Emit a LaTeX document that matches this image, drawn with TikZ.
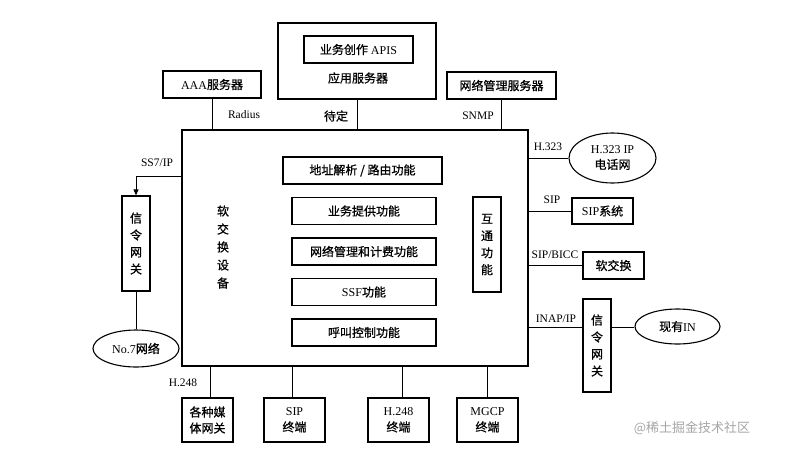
\documentclass[tikz,border=0pt]{standalone}
\usepackage{fontspec}
\setmainfont{Liberation Serif}
\newfontfamily\cjk[FakeBold=0.8]{Noto Sans CJK SC}
\newfontfamily\cjkthin{Noto Sans CJK SC}
\newcommand{\zh}[1]{{\cjk #1}}
\usetikzlibrary{arrows.meta,shapes.geometric}
\tikzset{
  box/.style={draw, line width=1.3pt, inner sep=0pt, align=center,
    font=\fontsize{12}{15}\selectfont},
  vbox/.style={box, font=\fontsize{12}{17}\selectfont\cjk},
  oval/.style={draw, ellipse, line width=1.1pt, inner sep=0pt, align=center,
    font=\fontsize{12}{15}\selectfont},
  conn/.style={draw, line width=0.8pt},
  lbl/.style={inner sep=0pt, font=\fontsize{11.5}{13}\selectfont},
  vtxt/.style={inner sep=0pt, align=center, font=\fontsize{12}{18}\selectfont\cjk}
}
\begin{document}
\begin{tikzpicture}[x=1pt,y=-1pt]
\useasboundingbox[fill=white] (0,0) rectangle (793,448);

% main soft switch box
\node[draw, line width=1.3pt, minimum width=346pt, minimum height=236pt, inner sep=0pt] (main) at (355,248) {};
\node[vtxt] (ssd) at (223,247) {软\\交\\换\\设\\备};

% top
\node[draw, line width=1.3pt, minimum width=158pt, minimum height=76pt, inner sep=0pt] (app) at (357,61) {};
\node[box, minimum width=109pt, minimum height=27pt] (api) at (358.5,49.5) {\zh{业务创作} APIS};
\node[lbl, font=\fontsize{12}{14}\selectfont\cjk] (appt) at (358,78) {应用服务器};
\node[box, minimum width=98pt, minimum height=27pt] (aaa) at (212,84.5) {AAA\zh{服务器}};
\node[box, minimum width=109pt, minimum height=27pt, font=\fontsize{12}{15}\selectfont\cjk] (nms) at (501.5,85.5) {网络管理服务器};
\draw[conn] (aaa.south) -- (aaa.south |- main.north);
\draw[conn] (app.south) -- (app.south |- main.north);
\draw[conn] (nms.south) -- (nms.south |- main.north);
\node[lbl] (radius) at (244,115) {Radius};
\node[lbl, font=\fontsize{12}{14}\selectfont\cjk] (dd) at (336,116) {待定};
\node[lbl] (snmp) at (478,116) {SNMP};

% inner function boxes
\node[box, minimum width=159pt, minimum height=27pt, font=\fontsize{12}{15}\selectfont\cjk] (f1) at (362.5,170.5) {地址解析 / 路由功能};
\node[box, minimum width=144pt, minimum height=27pt, font=\fontsize{12}{15}\selectfont\cjk] (f2) at (364,211) {业务提供功能};
\node[box, minimum width=144pt, minimum height=27pt, font=\fontsize{12}{15}\selectfont\cjk] (f3) at (364,251.5) {网络管理和计费功能};
\node[box, minimum width=144pt, minimum height=27pt] (f4) at (364,292) {SSF\zh{功能}};
\node[box, minimum width=144pt, minimum height=27pt, font=\fontsize{12}{15}\selectfont\cjk] (f5) at (364,332.5) {呼叫控制功能};
\node[vbox, minimum width=28pt, minimum height=95pt] (ht) at (487,244.5) {互\\通\\功\\能};

% left
\node[vbox, minimum width=28pt, minimum height=95pt] (sg1) at (136,243.5) {信\\令\\网\\关};
\draw[conn, -{Triangle[length=6pt,width=5pt]}] ([yshift=-47pt]main.north west) -| (sg1.north);
\node[lbl] (ss7) at (157,163) {SS7/IP};
\node[oval, minimum width=86pt, minimum height=37pt] (no7) at (136,348.5) {No.7\zh{网络}};
\draw[conn] (sg1.south) -- (no7.north);

% right
\node[oval, minimum width=87pt, minimum height=50pt] (h323) at (612.5,158) {H.323 IP\\\zh{电话网}};
\draw[conn] (h323.west) -- (h323.west -| main.east);
\node[lbl] (lh323) at (548,147) {H.323};
\node[box, minimum width=61pt, minimum height=26pt] (sip) at (602.5,211) {SIP\zh{系统}};
\draw[conn] (sip.west) -- (sip.west -| main.east);
\node[lbl] (lsip) at (552,200) {SIP};
\node[box, minimum width=61pt, minimum height=27pt, font=\fontsize{12}{15}\selectfont\cjk] (ssw) at (613.5,265.5) {软交换};
\draw[conn] (ssw.west) -- (ssw.west -| main.east);
\node[lbl] (lbicc) at (555,255) {SIP/BICC};
\node[vbox, minimum width=28pt, minimum height=93pt] (sg2) at (597,345.5) {信\\令\\网\\关};
\coordinate (sg2w) at ([yshift=18.5pt]sg2.west);
\coordinate (sg2e) at ([yshift=18.5pt]sg2.east);
\draw[conn] (sg2w) -- (sg2w -| main.east);
\node[lbl] (linap) at (556,319) {INAP/IP};
\node[oval, minimum width=85pt, minimum height=35pt] (in) at (677.5,326.5) {\zh{现有}IN};
\draw[conn] (sg2e) -- (sg2e -| in.west);

% bottom
\node[box, minimum width=51pt, minimum height=44pt, font=\fontsize{12}{16}\selectfont\cjk] (b1) at (207.5,420) {各种媒\\体网关};
\node[box, minimum width=61pt, minimum height=44pt, font=\fontsize{12}{16}\selectfont] (b2) at (294.5,420) {SIP\\\zh{终端}};
\node[box, minimum width=61pt, minimum height=44pt, font=\fontsize{12}{16}\selectfont] (b3) at (398.5,420) {H.248\\\zh{终端}};
\node[box, minimum width=61pt, minimum height=44pt, font=\fontsize{12}{16}\selectfont] (b4) at (487.5,420) {MGCP\\\zh{终端}};
\coordinate (c1) at ([xshift=2.5pt]b1.north);
\coordinate (c2) at ([xshift=-2.5pt]b2.north);
\coordinate (c3) at ([xshift=3.5pt]b3.north);
\draw[conn] (c1) -- (c1 |- main.south);
\draw[conn] (c2) -- (c2 |- main.south);
\draw[conn] (c3) -- (c3 |- main.south);
\draw[conn] (b4.north) -- (b4.north |- main.south);
\node[lbl] (lh248) at (183,383) {H.248};

% watermark
\node[inner sep=0pt, text=black!35, font=\fontsize{13}{15}\selectfont\cjkthin] (wm) at (692,428) {@稀土掘金技术社区};
\end{tikzpicture}
\end{document}
